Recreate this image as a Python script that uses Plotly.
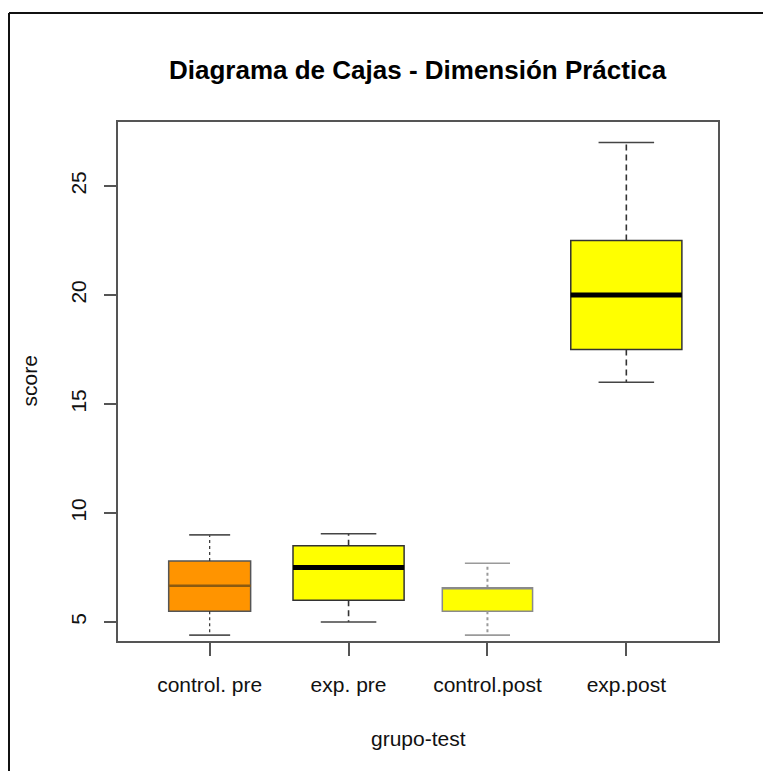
import plotly.graph_objects as go

# Summary statistics per group (five-number summaries)
groups = ["control. pre", "exp. pre", "control.post", "exp.post"]
lower_whisker = [4.4, 5.0, 4.4, 16.0]
q1 = [5.5, 6.0, 5.5, 17.5]
medians = [6.67, 7.5, 6.57, 20.0]
q3 = [7.8, 8.5, 6.57, 22.5]
upper_whisker = [9.0, 9.05, 7.7, 27.0]

y_ticks = [5, 10, 15, 20, 25]

# Styling per box
positions = [1, 2, 3, 4]
box_widths = [0.59, 0.8, 0.65, 0.8]
fill_colors = ["#FF9400", "#FFFF00", "#FFFF00", "#FFFF00"]
outline_colors = ["#555555", "#333333", "#8a8a8a", "#333333"]
median_colors = ["#8B5A10", "#000000", "#8a8a8a", "#000000"]
median_widths = [2.5, 5, 1.5, 5]
whisker_colors = ["#333333", "#333333", "#9a9a9a", "#333333"]
whisker_dash = ["dot", "6px,4px", "dot", "6px,4px"]
whisker_widths = [1.2, 1.6, 2.0, 1.6]
cap_colors = ["#555555", "#444444", "#9a9a9a", "#444444"]

fig = go.Figure()

for i, name in enumerate(groups):
    x0 = positions[i]
    w = box_widths[i]
    # box body (whiskers drawn separately so they can be dashed)
    fig.add_trace(go.Box(
        x=[x0], q1=[q1[i]], median=[medians[i]], q3=[q3[i]],
        lowerfence=[q1[i]], upperfence=[q3[i]],
        width=w, whiskerwidth=0,
        fillcolor=fill_colors[i],
        line=dict(color=outline_colors[i], width=1.5),
        name=name, showlegend=False, hoverinfo="skip",
    ))
    # whiskers
    for a, b in ((q3[i], upper_whisker[i]), (q1[i], lower_whisker[i])):
        fig.add_trace(go.Scatter(
            x=[x0, x0], y=[a, b], mode="lines",
            line=dict(color=whisker_colors[i], width=whisker_widths[i], dash=whisker_dash[i]),
            showlegend=False, hoverinfo="skip",
        ))
    # staples
    for yv in (upper_whisker[i], lower_whisker[i]):
        fig.add_trace(go.Scatter(
            x=[x0 - w / 4, x0 + w / 4], y=[yv, yv], mode="lines",
            line=dict(color=cap_colors[i], width=1.6),
            showlegend=False, hoverinfo="skip",
        ))
    # median line
    fig.add_trace(go.Scatter(
        x=[x0 - w / 2, x0 + w / 2], y=[medians[i], medians[i]], mode="lines",
        line=dict(color=median_colors[i], width=median_widths[i]),
        showlegend=False, hoverinfo="skip",
    ))

font = "Liberation Sans, Arial, sans-serif"

fig.update_layout(
    width=763, height=771,
    margin=dict(l=118, r=45, t=122, b=130),
    paper_bgcolor="white", plot_bgcolor="white",
    font=dict(family=font, color="#111111", size=21),
    xaxis=dict(
        range=[0.34, 4.66], tickvals=positions, ticktext=groups,
        showgrid=False, zeroline=False,
        showline=True, mirror=True, linecolor="#555555", linewidth=1.5,
        ticks="outside", ticklen=13, tickcolor="#555555", tickwidth=1.5,
        tickfont=dict(size=21, family=font, color="#111111"),
        ticklabelstandoff=11,
    ),
    yaxis=dict(
        range=[4.13, 27.94], tickvals=y_ticks,
        showgrid=False, zeroline=False,
        showline=True, mirror=True, linecolor="#555555", linewidth=1.5,
        ticks="outside", ticklen=12, tickcolor="#555555", tickwidth=1.5,
        tickangle=-90,
        tickfont=dict(size=21, family=font, color="#111111"),
        ticklabelstandoff=10,
    ),
)

# titles placed relative to the plot area (600 x 519 px, origin at 118,641)
pw, ph = 600.0, 519.0
fig.add_annotation(text="<b>Diagrama de Cajas - Dimensión Práctica</b>",
                   x=0.5, y=(641 - 70) / ph, xref="paper", yref="paper",
                   showarrow=False, font=dict(size=26, family=font, color="#000000"),
                   xanchor="center", yanchor="middle")
fig.add_annotation(text="grupo-test", x=0.5, y=(641 - 738) / ph,
                   xref="paper", yref="paper", showarrow=False,
                   font=dict(size=21, family=font, color="#111111"),
                   xanchor="center", yanchor="middle")
fig.add_annotation(text="score", x=(29 - 118) / pw, y=0.5,
                   xref="paper", yref="paper", showarrow=False, textangle=-90,
                   font=dict(size=21, family=font, color="#111111"),
                   xanchor="center", yanchor="middle")

# outer frame on the left and top of the page
fig.add_shape(type="line", xref="paper", yref="paper",
              x0=(9 - 118) / pw, x1=(9 - 118) / pw,
              y0=(641 - 775) / ph, y1=(641 - 13) / ph,
              line=dict(color="#111111", width=2))
fig.add_shape(type="line", xref="paper", yref="paper",
              x0=(9 - 118) / pw, x1=(767 - 118) / pw,
              y0=(641 - 13) / ph, y1=(641 - 13) / ph,
              line=dict(color="#111111", width=2))

fig.write_html("out.html")
